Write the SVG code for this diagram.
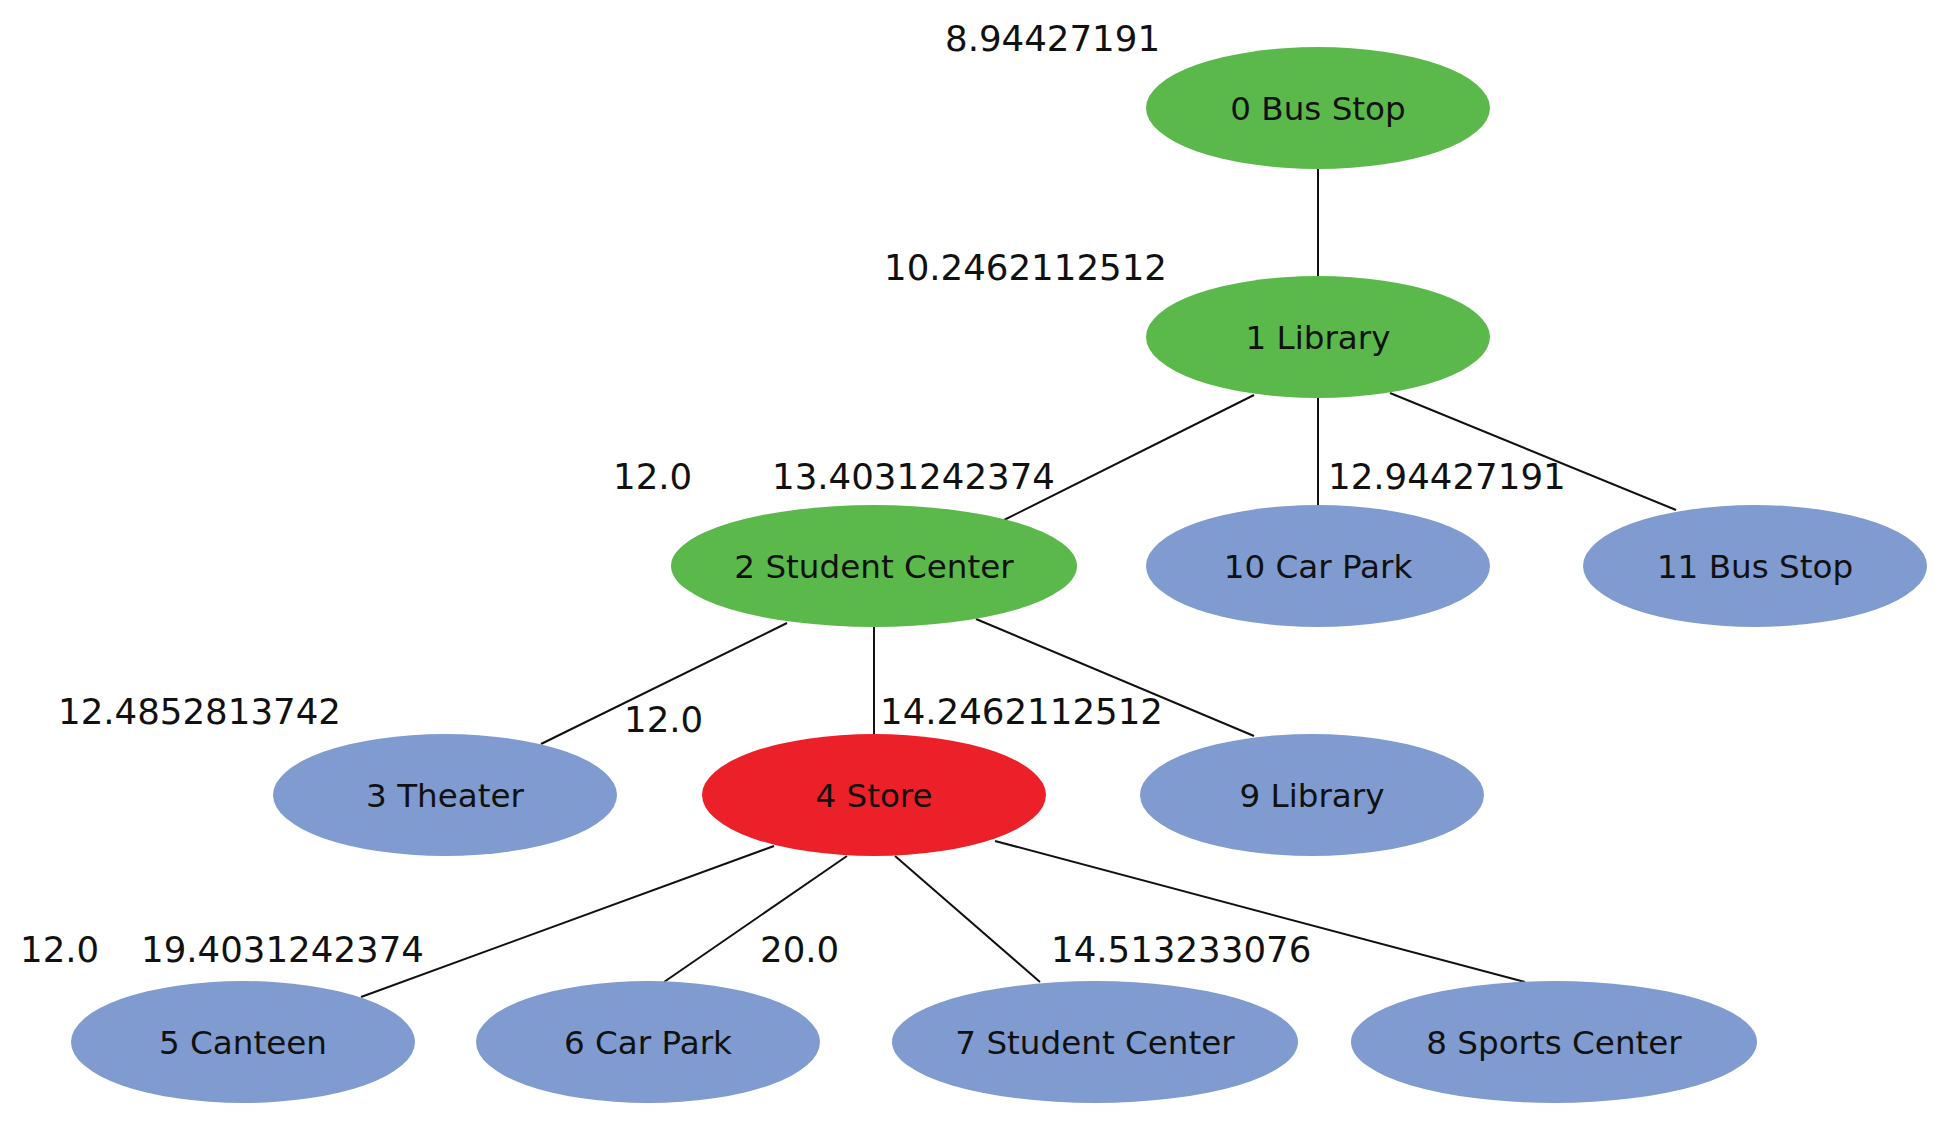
<svg xmlns="http://www.w3.org/2000/svg" width="1950" height="1127" viewBox="0 0 1950 1127">
<style>
.n ellipse{stroke:none}
.g{fill:#5BB94B}
.b{fill:#7F9BCF}
.r{fill:#EC2028}
text{font-family:"DejaVu Sans","Liberation Sans",sans-serif;font-size:35.6px;fill:#111}
.n text{text-anchor:middle;font-size:32.6px}
#edges line{stroke:#111;stroke-width:2}
</style>
<rect width="1950" height="1127" fill="#fff"/>
<g id="edges">
<line x1="1318" y1="169" x2="1318" y2="276"/>
<line x1="1254" y1="395" x2="1004" y2="520"/>
<line x1="1318" y1="398" x2="1318" y2="505"/>
<line x1="1390" y1="393" x2="1676" y2="510"/>
<line x1="787" y1="623" x2="541" y2="744"/>
<line x1="874" y1="627" x2="874" y2="734"/>
<line x1="976" y1="619" x2="1254" y2="736"/>
<line x1="774" y1="846" x2="361" y2="997"/>
<line x1="847" y1="856" x2="664" y2="982"/>
<line x1="895" y1="856" x2="1040" y2="982"/>
<line x1="995" y1="841" x2="1525" y2="982"/>
</g>
<g id="node0" class="n"><ellipse class="g" cx="1318" cy="108" rx="172" ry="61"/><text x="1318" y="120">0 Bus Stop</text></g>
<g id="node1" class="n"><ellipse class="g" cx="1318" cy="337" rx="172" ry="61"/><text x="1318" y="349">1 Library</text></g>
<g id="node2" class="n"><ellipse class="g" cx="874" cy="566" rx="203" ry="61"/><text x="874" y="578">2 Student Center</text></g>
<g id="node10" class="n"><ellipse class="b" cx="1318" cy="566" rx="172" ry="61"/><text x="1318" y="578">10 Car Park</text></g>
<g id="node11" class="n"><ellipse class="b" cx="1755" cy="566" rx="172" ry="61"/><text x="1755" y="578">11 Bus Stop</text></g>
<g id="node3" class="n"><ellipse class="b" cx="445" cy="795" rx="172" ry="61"/><text x="445" y="807">3 Theater</text></g>
<g id="node4" class="n"><ellipse class="r" cx="874" cy="795" rx="172" ry="61"/><text x="874" y="807">4 Store</text></g>
<g id="node9" class="n"><ellipse class="b" cx="1312" cy="795" rx="172" ry="61"/><text x="1312" y="807">9 Library</text></g>
<g id="node5" class="n"><ellipse class="b" cx="243" cy="1042" rx="172" ry="61"/><text x="243" y="1054">5 Canteen</text></g>
<g id="node6" class="n"><ellipse class="b" cx="648" cy="1042" rx="172" ry="61"/><text x="648" y="1054">6 Car Park</text></g>
<g id="node7" class="n"><ellipse class="b" cx="1095" cy="1042" rx="203" ry="61"/><text x="1095" y="1054">7 Student Center</text></g>
<g id="node8" class="n"><ellipse class="b" cx="1554" cy="1042" rx="203" ry="61"/><text x="1554" y="1054">8 Sports Center</text></g>
<g id="labels">
<text x="945" y="51">8.94427191</text>
<text x="884" y="280">10.2462112512</text>
<text x="613" y="489">12.0</text>
<text x="772" y="489">13.4031242374</text>
<text x="1328" y="489">12.94427191</text>
<text x="58" y="724">12.4852813742</text>
<text x="624" y="732">12.0</text>
<text x="880" y="724">14.2462112512</text>
<text x="20" y="962">12.0</text>
<text x="141" y="962">19.4031242374</text>
<text x="760" y="962">20.0</text>
<text x="1051" y="962">14.513233076</text>
</g>
</svg>
